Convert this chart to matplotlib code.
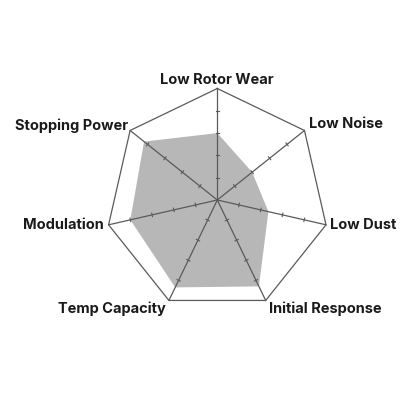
import numpy as np
import matplotlib
matplotlib.use('Agg')
import matplotlib.pyplot as plt

# axes listed clockwise from the top
labels = ['Low Rotor Wear', 'Low Noise', 'Low Dust', 'Initial Response',
          'Temp Capacity', 'Modulation', 'Stopping Power']
values = [3.0, 2.0, 2.35, 4.3, 4.35, 4.0, 4.2]
max_value = 5
tick_steps = [1, 2, 3, 4]

line_color = '#5a5a5a'
fill_color = '#b7b7b7'

n = len(labels)
angles = np.pi / 2 - np.arange(n) * 2 * np.pi / n

fig = plt.figure(figsize=(4.16, 4.16), dpi=100)
ax = fig.add_axes([0, 0, 1, 1])
scale = 22.3  # pixels per unit
cx, cy = 217.3, 200.0
ax.set_xlim(-cx / scale, (416 - cx) / scale)
ax.set_ylim(-(416 - cy) / scale, cy / scale)
ax.axis('off')

# data polygon
xs = np.array(values) * np.cos(angles)
ys = np.array(values) * np.sin(angles)
ax.fill(xs, ys, color=fill_color, lw=0, zorder=1)

# outer heptagon
ox = max_value * np.cos(angles)
oy = max_value * np.sin(angles)
ax.plot(np.append(ox, ox[0]), np.append(oy, oy[0]), color=line_color, lw=0.9, zorder=2)

# spokes with tick marks
for a in angles:
    ax.plot([0, max_value * np.cos(a)], [0, max_value * np.sin(a)], color=line_color, lw=0.9, zorder=2)
    px, py = -np.sin(a), np.cos(a)
    for t in tick_steps:
        tx, ty = t * np.cos(a), t * np.sin(a)
        ax.plot([tx - 0.08 * px, tx + 0.08 * px], [ty - 0.08 * py, ty + 0.08 * py],
                color=line_color, lw=0.8, zorder=2)

# labels
font = dict(fontsize=10.5, fontweight='bold', family='Inter', color='#1a1a1a')
placements = [
    (0, 0.19, 'center', 'baseline'),
    (0.2, 0.1, 'left', 'baseline'),
    (0.19, 0.0, 'left', 'center'),
    (0.16, -0.56, 'left', 'baseline'),
    (-0.14, -0.56, 'right', 'baseline'),
    (-0.2, 0.0, 'right', 'center'),
    (-0.1, 0.0, 'right', 'baseline'),
]
for lab, a, (dx, dy, ha, va) in zip(labels, angles, placements):
    ax.text(max_value * np.cos(a) + dx, max_value * np.sin(a) + dy, lab,
            ha=ha, va=va, **font)

fig.savefig('out.png', dpi=100, facecolor='white')
